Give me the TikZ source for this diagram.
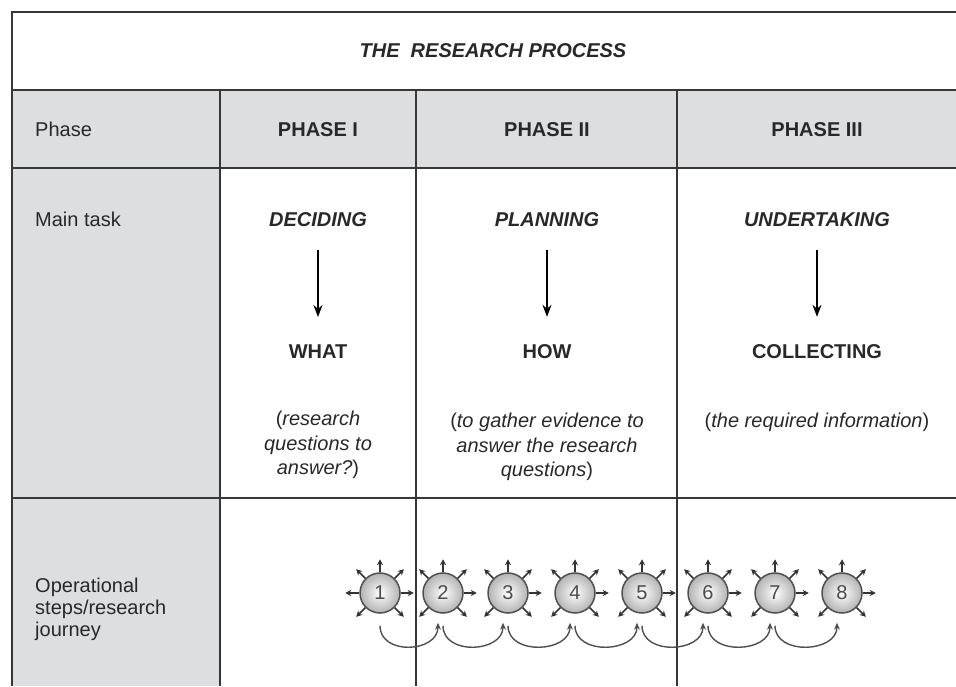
\documentclass[tikz,border=0pt]{standalone}
\usepackage{fontspec}
\setmainfont{Liberation Sans}
\usetikzlibrary{arrows.meta}
\definecolor{rule}{RGB}{55,55,55}
\definecolor{cellgray}{RGB}{221,222,224}
\definecolor{ink}{RGB}{40,40,40}
\definecolor{sunline}{RGB}{80,80,80}
\begin{document}
\begin{tikzpicture}[x=1pt, y=1pt,
  txt/.style={inner sep=0, text=ink, font=\fontsize{20}{24.5}\selectfont},
  head/.style={txt, font=\fontsize{20}{24.5}\selectfont\bfseries},
  task/.style={txt, font=\fontsize{20}{24.5}\selectfont\bfseries\itshape},
  note/.style={txt, align=center, anchor=north},
  down/.style={-{Stealth[length=12pt, width=9pt]}, line width=1.5pt, black},
  sun/.style={circle, draw=sunline, line width=1.5pt, minimum size=40pt, inner sep=0,
    inner color=white, outer color=black!30, text=black!70, font=\fontsize{20}{20}\selectfont},
  ray/.style={-{Stealth[length=6pt, width=6pt]}, line width=1.6pt, black!80},
  hop/.style={-{Stealth[length=7pt, width=6pt]}, line width=1.4pt, sunline}]
\useasboundingbox (0,0) rectangle (956,686);
\fill[cellgray] (12,518) rectangle (956,596);
\fill[cellgray] (12,0) rectangle (220,518);
\draw[rule, line width=1.6pt] (956,674) -- (12,674) -- (12,0);
\foreach \y in {596,518,188}
  \draw[rule, line width=1.6pt] (12,\y) -- (956,\y);
\foreach \x in {220,416,677}
  \draw[rule, line width=1.6pt] (\x,596) -- (\x,0);

\node[task, anchor=base] (title) at (493,628) {THE~~RESEARCH PROCESS};

\node[txt, anchor=base west] (phase) at (35,549) {Phase};
\node[head, anchor=base] (p1) at (318,549) {PHASE I};
\node[head, anchor=base] (p2) at (547,549) {PHASE II};
\node[head, anchor=base] (p3) at (817,549) {PHASE III};

\node[txt, anchor=base west] (maintask) at (35,459) {Main task};
\node[task, anchor=base] (decide) at (318,459) {DECIDING};
\node[task, anchor=base] (plan) at (547,459) {PLANNING};
\node[task, anchor=base] (undertake) at (817,459) {UNDERTAKING};

\node[head, anchor=base] (what) at (318,327) {WHAT};
\node[head, anchor=base] (how) at (547,327) {HOW};
\node[head, anchor=base] (collect) at (817,327) {COLLECTING};

\draw[down, shorten <=23pt, shorten >=28pt] (decide.south) -- (what.north);
\draw[down, shorten <=23pt, shorten >=28pt] (plan.south) -- (how.north);
\draw[down, shorten <=23pt, shorten >=28pt] (undertake.south) -- (collect.north);

\node[note] (whatnote) at (318,275) {(\textit{research}\\\textit{questions to}\\\textit{answer?})};
\node[note] (hownote) at (547,273) {(\textit{to gather evidence to}\\\textit{answer the research}\\\textit{questions})};
\node[note] (collectnote) at (817,273) {(\textit{the required information})};

\node[txt, align=left, anchor=north west, font=\fontsize{20}{22}\selectfont] (journey) at (35,108)
  {Operational\\steps/research\\journey};

\foreach \n/\x in {1/380,2/443,3/508,4/575,5/642,6/708,7/775,8/842}
  \node[sun] (s\n) at (\x,93) {\n};
\foreach \n in {1,...,8}
  \foreach \a in {0,45,90,135,225,315}
    \draw[ray] (s\n.\a) -- ([shift={(\a:13)}]s\n.\a);
\draw[ray] (s1.180) -- ([shift={(180:14)}]s1.180);
\foreach \n [count=\m from 2] in {1,...,7}
  \draw[hop] ([yshift=-12pt]s\n.south) .. controls +(0,-30) and +(0,-30) .. ([xshift=-5pt, yshift=-9pt]s\m.south);
\end{tikzpicture}
\end{document}
